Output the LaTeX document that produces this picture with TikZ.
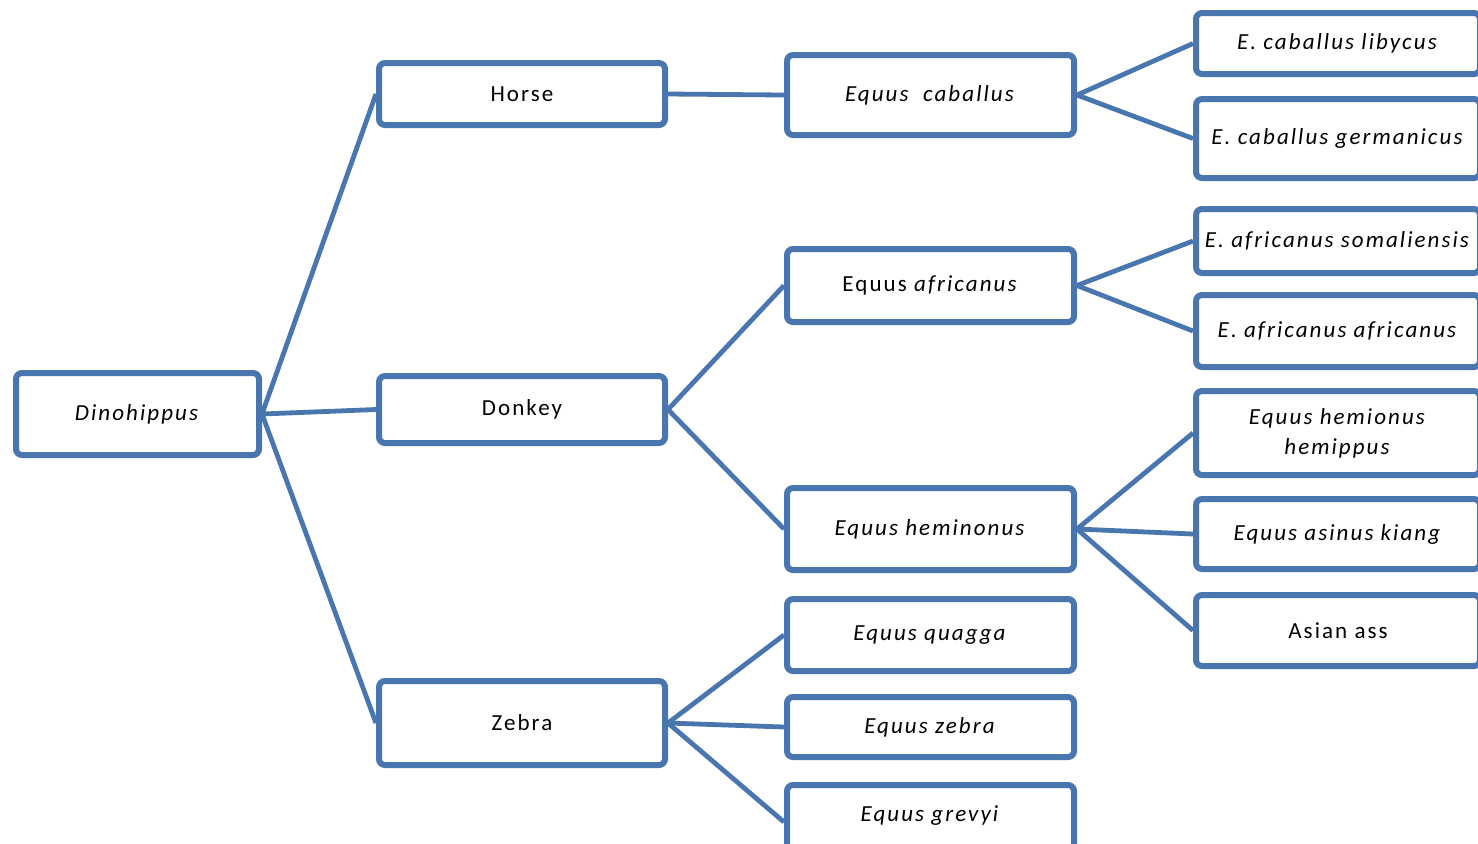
\documentclass[tikz,border=0pt]{standalone}
\usepackage{fontspec}
\setmainfont{Carlito}[LetterSpace=9]
\definecolor{branch}{HTML}{4A76B0}

\begin{document}
\begin{tikzpicture}[x=0.5pt,y=-0.5pt,
  taxon/.style={shape=rectangle,rounded corners=3pt,draw=branch,line width=3pt,fill=white,inner sep=0,align=center,font=\fontsize{11.5}{15}\selectfont},
  link/.style={draw=branch,line width=2.4pt}]
  \useasboundingbox (0,0) rectangle (1478,843);
  \clip (0,0) rectangle (1478,843);
  % Column 0
  {\node[taxon] [minimum width=121.5pt,minimum height=41pt] (0;1) at (137.5,414) {\textit{Dinohippus}};}
  % Column 1
  {\node[taxon] [minimum width=143pt,minimum height=31pt]   (1;1) at (522,94)    {Horse};}
  {\node[taxon] [minimum width=143pt,minimum height=33.5pt] (1;2) at (522,409.5) {Donkey};}
  {\node[taxon] [minimum width=143pt,minimum height=42pt]   (1;3) at (522,723)   {Zebra};}
  % Column 2
  {\node[taxon] [minimum width=143.5pt,minimum height=40pt]   (2;1) at (930.5,95)    {\textit{Equus~ caballus}};}
  {\node[taxon] [minimum width=143.5pt,minimum height=36.5pt] (2;2) at (930.5,285.5) {Equus \textit{africanus}};}
  {\node[taxon] [minimum width=143.5pt,minimum height=41pt]   (2;3) at (930.5,529)   {\textit{Equus heminonus}};}
  {\node[taxon] [minimum width=143.5pt,minimum height=36pt]   (2;4) at (930.5,635)   {\textit{Equus quagga}};}
  {\node[taxon] [minimum width=143.5pt,minimum height=30pt]   (2;5) at (930.5,727)   {\textit{Equus zebra}};}
  {\node[taxon] [minimum width=143.5pt,minimum height=37pt]   (2;6) at (930.5,822)   {\raisebox{8pt}{\textit{Equus grevyi}}};}
  % Column 3
  {\node[taxon] [minimum width=142pt,minimum height=30.5pt] (3;1) at (1338,43.5)  {\textit{E. caballus libycus}};}
  {\node[taxon] [minimum width=142pt,minimum height=39.5pt] (3;2) at (1338,138.5) {\textit{E. caballus germanicus}};}
  {\node[taxon] [minimum width=142pt,minimum height=32pt]   (3;3) at (1338,241)   {\textit{E. africanus somaliensis}};}
  {\node[taxon] [minimum width=142pt,minimum height=36pt]   (3;4) at (1338,331)   {\textit{E. africanus africanus}};}
  {\node[taxon] [minimum width=142pt,minimum height=42pt]   (3;5) at (1338,433)   {\textit{Equus hemionus}\\\textit{hemippus}};}
  {\node[taxon] [minimum width=142pt,minimum height=35pt]   (3;6) at (1338,534)   {\textit{Equus asinus kiang}};}
  {\node[taxon] [minimum width=142pt,minimum height=35.5pt] (3;7) at (1338,630.5) {Asian ass};}
  % Links
  \foreach \c in {1,2,3} {\draw[link] (0;1.east) -- (1;\c.west);}
  \draw[link] (1;1.east) -- (2;1.west);
  \foreach \c in {2,3} {\draw[link] (1;2.east) -- (2;\c.west);}
  \foreach \c in {4,5,6} {\draw[link] (1;3.east) -- (2;\c.west);}
  \foreach \c in {1,2} {\draw[link] (2;1.east) -- (3;\c.west);}
  \foreach \c in {3,4} {\draw[link] (2;2.east) -- (3;\c.west);}
  \foreach \c in {5,6,7} {\draw[link] (2;3.east) -- (3;\c.west);}
\end{tikzpicture}
\end{document}
